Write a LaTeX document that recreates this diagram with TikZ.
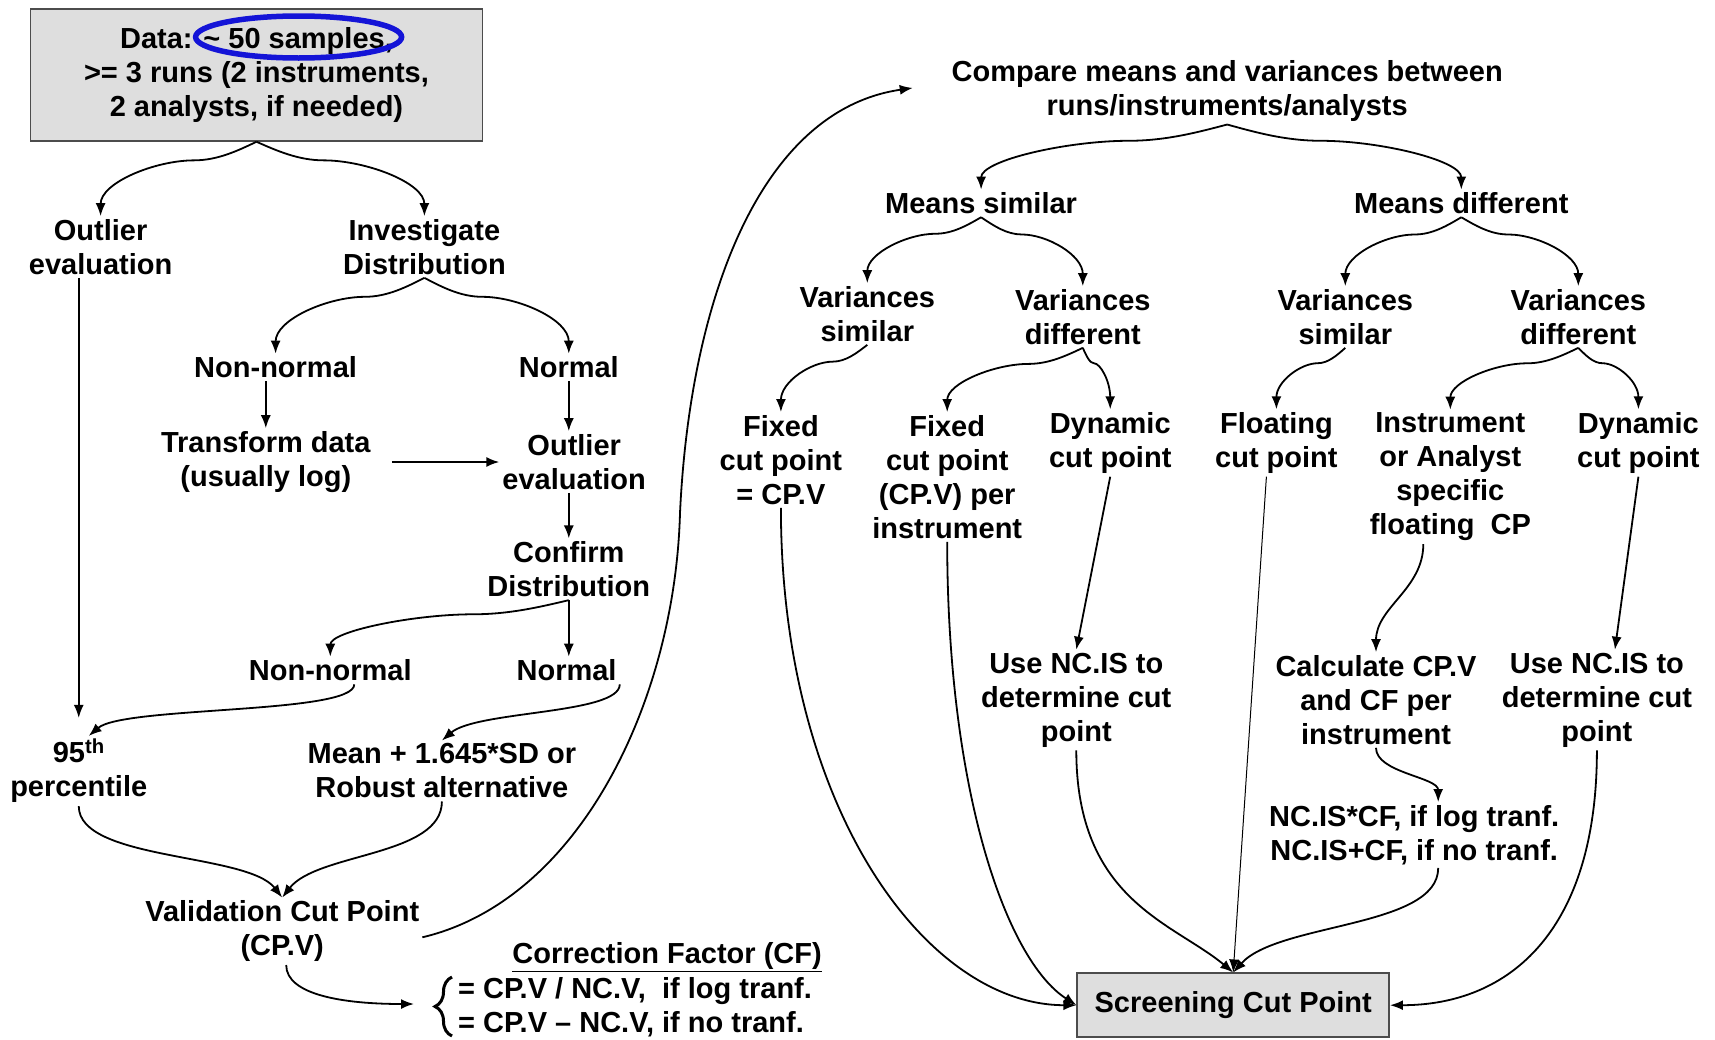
\documentclass[tikz,border=0pt]{standalone}
\usepackage{fontspec}
\setmainfont{Liberation Sans}
\usetikzlibrary{arrows.meta,calc,decorations.pathreplacing}

\begin{document}
\begin{tikzpicture}[x=1pt,y=-1pt]
\tikzset{lbl/.style={align=center, font=\fontsize{29}{34}\selectfont\bfseries, inner sep=3pt},
  box/.style={lbl, draw=black!70, fill=black!13, line width=1.5pt},
  arr/.style={-{Latex[length=13pt,width=10pt]}, line width=1.8pt},
  ring/.style={draw={rgb,255:red,20;green,20;blue,215}, line width=5.5pt},
  split/.style={to path={let \p1=(\tikztostart), \p2=(\tikztotarget),
    \p3=($(\p1)!0.12!(\p2)$), \p4=($(\p1)!0.25!(\p2)$), \p5=($(\p1)!0.4!(\p2)$),
    \p6=($(\p1)!0.65!(\p2)$), \p7=($(\p1)!0.55!(\p2)$) in
    .. controls (\p3) and (\p4) .. (\x5,\y4) .. controls (\x6,\y4) and (\x2,\y7) .. (\p2)}},
  sbend/.style={to path={.. controls +(0,#1) and +(0,-#1) .. (\tikztotarget)}},
  sbend/.default=25}
\fill[white] (0,0) rectangle (1715,1039);
\useasboundingbox (0,0) rectangle (1715,1039);
% left half
\node[box, minimum width=452pt, minimum height=132pt] (data) at (256.5,75) {Data: \textasciitilde\ 50 samples,\\>= 3 runs (2 instruments,\\2 analysts, if needed)};
\draw[ring] (298.6,37) ellipse [x radius=103, y radius=21];
\node[lbl] (outl1) at (100.6,247) {Outlier\\evaluation};
\node[lbl] (inv) at (424.4,247) {Investigate\\Distribution};
\node[lbl] (nn1) at (275.6,367.5) {Non-normal};
\node[lbl] (nm1) at (568.8,367.5) {Normal};
\node[lbl] (trf) at (265.8,462) {Transform data\\(usually log)};
\node[lbl] (outl2) at (574.2,462) {Outlier\\evaluation};
\node[lbl] (conf) at (568.8,569.3) {Confirm\\Distribution};
\node[lbl] (nn2) at (330.3,670.5) {Non-normal};
\node[lbl] (nm2) at (566.6,670.5) {Normal};
\node[lbl] (p95) at (78.75,771) {95\textsuperscript{th}\\percentile};
\node[lbl] (msd) at (441.9,771) {Mean + 1.645*SD or\\Robust alternative};
\node[lbl] (cpv) at (282.2,931.3) {Validation Cut Point\\(CP.V)};
\node[lbl, anchor=east] (cft) at (825,957) {\underline{Correction Factor (CF)}};
\node[lbl, anchor=west, align=left] (cfl) at (455,1007) {= CP.V / NC.V,\ \ if log tranf.\\= CP.V -- NC.V, if no tranf.};
\coordinate (cfin) at (414,1004);
\draw[line width=3pt, decorate, decoration={brace, amplitude=17pt}] (452,1036) -- (452,977);
% right half
\node[lbl] (cmp) at (1227.2,90.8) {Compare means and variances between\\runs/instruments/analysts};
\node[lbl] (msim) at (981.1,203.4) {Means similar};
\node[lbl] (mdif) at (1461.3,203.4) {Means different};
\node[lbl] (vsim1) at (867.3,314) {Variances\\similar};
\node[lbl] (vdif1) at (1082.8,317) {Variances\\different};
\node[lbl] (vsim2) at (1345.3,317) {Variances\\similar};
\node[lbl] (vdif2) at (1578.3,317) {Variances\\different};
\node[lbl] (fix1) at (780.9,459.9) {Fixed\\cut point\\= CP.V};
\node[lbl] (fix2) at (947.2,476.9) {Fixed\\cut point\\(CP.V) per\\instrument};
\node[lbl] (dyn1) at (1110.2,443) {Dynamic\\cut point};
\node[lbl] (flo) at (1276.4,443) {Floating\\cut point};
\node[lbl] (ins) at (1450.3,476.9) {Instrument\\or Analyst\\specific\\floating\ \ CP};
\node[lbl] (dyn2) at (1638.4,443) {Dynamic\\cut point};
\node[lbl] (use1) at (1076.3,700) {Use NC.IS to\\determine cut\\point};
\node[lbl] (calc) at (1376,700) {Calculate CP.V\\and CF per\\instrument};
\node[lbl] (use2) at (1596.9,700) {Use NC.IS to\\determine cut\\point};
\node[lbl] (ncis) at (1414.2,835) {NC.IS*CF, if log tranf.\\NC.IS+CF, if no tranf.};
\node[box, minimum width=312pt, minimum height=64pt] (scr) at (1233.2,1005.2) {Screening Cut Point};
% connectors, left
\draw[arr] (data.south) to[split] (outl1.north);
\draw[arr] (data.south) to[split] (inv.north);
\draw[arr, shorten >=18pt] (p95.north |- outl1.south) -- (p95.north);
\draw[arr] (inv.south) to[split] (nn1.north);
\draw[arr] (inv.south) to[split] (nm1.north);
\draw[arr] (nn1.south -| trf.north) -- (trf.north);
\draw[arr] (conf.north |- nm1.south) -- (conf.north |- outl2.north);
\draw[arr, shorten <=18pt] (trf.east) -- (outl2.west);
\draw[arr] (conf.north |- outl2.south) -- (conf.north);
\draw[arr] (conf.south) -- (conf.south |- nm2.north);
\draw[arr] (conf.south) to[split] (nn2.north);
\draw[arr] (nn2.-30) .. controls +(0,30) and +(35,-30) .. ([xshift=10pt]p95.north);
\draw[arr] (nm2.south east) .. controls +(0,30) and +(35,-30) .. (msd.north);
\draw[arr] (p95.south) .. controls +(0,55) and +(-35,-45) .. (cpv.north);
\draw[arr] (msd.south) .. controls +(0,55) and +(35,-45) .. (cpv.north);
\draw[arr] ([xshift=4pt]cpv.south) .. controls +(0,30) and +(-70,0) .. (cfin);
\draw[arr, shorten >=36pt] ([yshift=-6pt]cpv.east) .. controls (580,900) and (675,700) .. (680,513)
  .. controls (690,300) and (760,110) .. ([yshift=8pt]cmp.west);
% connectors, right
\draw[arr] (cmp.south) to[split] (msim.north);
\draw[arr] (cmp.south) to[split] (mdif.north);
\draw[arr] (msim.south) to[split] (vsim1.north);
\draw[arr] (msim.south) to[split] (vdif1.north);
\draw[arr] (mdif.south) to[split] (vsim2.north);
\draw[arr] (mdif.south) to[split] (vdif2.north);
\draw[arr] (vsim1.south) to[split] (fix1.north);
\draw[arr] (vdif1.south) to[split] (fix2.north);
\draw[arr] (vdif1.south) to[split] (dyn1.north);
\draw[arr] (vsim2.south) to[split] (flo.north);
\draw[arr] (vdif2.south) to[split] (ins.north);
\draw[arr] (vdif2.south) to[split] (dyn2.north);
\draw[arr] (dyn1.south) -- (use1.north);
\draw[arr] (dyn2.south) -- ([xshift=18pt]use2.north);
\draw[arr] ([xshift=-27pt]ins.south) to[sbend=45] (calc.north);
\draw[arr] (calc.south) to[sbend] ([xshift=24pt]ncis.north);
\draw[arr] (fix1.south) .. controls +(0,300) and +(-150,0) .. (scr.west);
\draw[arr] (fix2.south) .. controls +(0,250) and +(-70,-45) .. (scr.west);
\draw[arr] (use1.south) .. controls +(0,150) and +(-60,-50) .. (scr.north);
\draw[arr, line width=1pt] ([xshift=-10pt]flo.south) -- (scr.north);
\draw[arr] ([xshift=24pt]ncis.south) .. controls +(0,60) and +(45,-50) .. (scr.north);
\draw[arr] (use2.south) .. controls +(0,180) and +(120,0) .. (scr.east);
\end{tikzpicture}
\end{document}
